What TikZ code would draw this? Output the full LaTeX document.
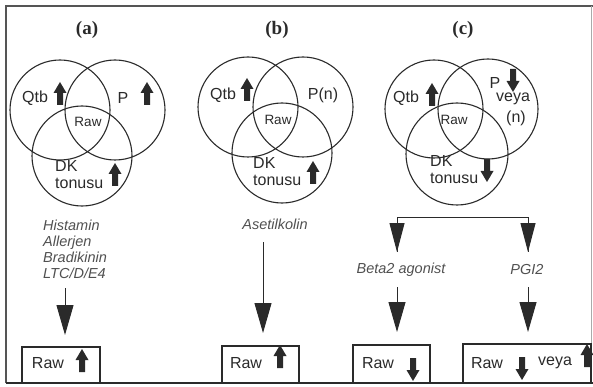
\documentclass[tikz,border=0pt]{standalone}
\usepackage{fontspec}
\setmainfont{Liberation Sans}
\newfontfamily\labfont{Liberation Serif}
\usetikzlibrary{arrows.meta}
\definecolor{ink}{HTML}{2A2A2A}
\definecolor{soft}{HTML}{505050}
\tikzset{
  circ/.style={circle, draw=ink, line width=1.1pt, minimum size=100pt, inner sep=0pt},
  lbl/.style={font=\fontsize{16}{17}\selectfont, text=ink, inner sep=0pt},
  rawc/.style={font=\fontsize{13.5}{15}\selectfont, text=ink, inner sep=0pt},
  panel/.style={font=\labfont\bfseries\fontsize{19}{21}\selectfont, text=ink, inner sep=0pt},
  agent/.style={font=\itshape\fontsize{14.5}{16}\selectfont, text=soft, inner sep=0pt, align=left},
  resbox/.style={draw=ink, line width=1.1pt, inner sep=0pt},
  rawb/.style={font=\fontsize{16}{17}\selectfont, text=ink, inner sep=0pt},
  conn/.style={draw=ink, line width=1pt, -{Triangle[length=30pt,width=17pt]}},
  uparr/.pic={\fill[ink] (-3,0) -- (-3,-12) -- (-6.5,-12) -- (0,-23) -- (6.5,-12) -- (3,-12) -- (3,0) -- cycle;},
  downarr/.pic={\fill[ink] (-3,0) -- (-3,12) -- (-6.5,12) -- (0,23) -- (6.5,12) -- (3,12) -- (3,0) -- cycle;}
}
\begin{document}
\begin{tikzpicture}[x=1pt,y=-1pt]
\useasboundingbox (0,0) rectangle (593,387);
% frame
\draw[ink!80, line width=1.2pt] (6,383) -- (6,6) -- (593,6);
\draw[ink!40, line width=0.8pt] (591,6) -- (591,383);
\draw[ink, line width=2pt] (6,383) -- (593,383);

% ---------- panel (a)
\node[panel] (la) at (87,30) {(a)};
\node[circ] (aq) at (60,110) {};
\node[circ] (ap) at (115,110) {};
\node[circ] (ad) at (82,156) {};
\node[lbl] (aqt) at (35,98) {Qtb};
\pic at (60,105) {uparr};
\node[lbl] (apt) at (123,98) {P};
\pic at (147,105) {uparr};
\node[rawc] (ar) at (88,122) {Raw};
\node[lbl, align=left, anchor=north west] (adt) at (55,160) {DK\\tonusu};
\pic at (115,186) {uparr};

\node[agent, anchor=west] (ag1) at (43,249.5) {Histamin\\Allerjen\\Bradikinin\\LTC/D/E4};
\coordinate (a1) at (65,288);
\coordinate (a2) at (65,335);
\draw[conn] (a1) -- (a2);
\node[resbox, minimum width=78pt, minimum height=36pt] (ba) at (61,365) {};
\node[rawb] (bat) at (48,363) {Raw};
\pic at (82,372) {uparr};

% ---------- panel (b)
\node[panel] (lb) at (277,30) {(b)};
\node[circ] (bq) at (248,107) {};
\node[circ] (bp) at (303,107) {};
\node[circ] (bd) at (282,153) {};
\node[lbl] (bqt) at (223,95) {Qtb};
\pic at (247,101) {uparr};
\node[lbl] (bpt) at (323,95) {P(n)};
\node[rawc] (br) at (278,120) {Raw};
\node[lbl, align=left, anchor=north west] (bdt) at (253,157) {DK\\tonusu};
\pic at (313,184) {uparr};

\node[agent] (ag2) at (275,224) {Asetilkolin};
\coordinate (b1) at (263,242);
\coordinate (b2) at (263,333);
\draw[conn] (b1) -- (b2);
\node[resbox, minimum width=77pt, minimum height=37pt] (bb) at (260.5,364.5) {};
\node[rawb] (bbt) at (246,363) {Raw};
\pic at (280,368) {uparr};

% ---------- panel (c)
\node[panel] (lc) at (463,30) {(c)};
\node[circ, minimum size=98pt] (cq) at (434,109) {};
\node[circ] (cp) at (488,109) {};
\node[circ, minimum size=102pt] (cd) at (457,154) {};
\node[lbl] (cqt) at (406,98) {Qtb};
\pic at (432,106) {uparr};
\node[lbl] (cpt) at (495,83) {P};
\pic at (513,69) {downarr};
\node[lbl] (cpv) at (513,99) {veya};
\node[lbl] (cpn) at (516,118) {(n)};
\node[rawc] (cr) at (454,120) {Raw};
\node[lbl, align=left, anchor=north west] (cdt) at (430,155) {DK\\tonusu};
\pic at (487,159) {downarr};

\coordinate (br1) at (397,217);
\coordinate (br2) at (528,217);
\coordinate (bt1) at (397,252);
\coordinate (bt2) at (528,252);
\draw[ink, line width=1pt] (bt1) -- (br1) -- (br2) -- (bt2);
\draw[conn, -{Triangle[length=29pt,width=15pt]}] (397,224) -- (bt1);
\draw[conn, -{Triangle[length=29pt,width=15pt]}] (528,224) -- (bt2);

\node[agent] (ag3) at (401,270) {Beta2 agonist};
\node[agent] (ag4) at (527,270) {PGI2};
\coordinate (c1) at (397,287);
\coordinate (c2) at (528,287);
\coordinate (c1e) at (397,332);
\coordinate (c2e) at (528,332);
\draw[conn] (c1) -- (c1e);
\draw[conn] (c2) -- (c2e);

\node[resbox, minimum width=77pt, minimum height=38pt] (bc1) at (391.5,364) {};
\node[rawb] (bc1t) at (378,363) {Raw};
\pic at (413,358) {downarr};
\node[resbox, minimum width=128pt, minimum height=39pt] (bc2) at (527,363.5) {};
\node[rawb] (bc2t) at (487,363) {Raw};
\pic at (522,357) {downarr};
\node[rawb] (bc2v) at (555,363) {veya};
\pic at (587,367) {uparr};
\end{tikzpicture}
\end{document}
